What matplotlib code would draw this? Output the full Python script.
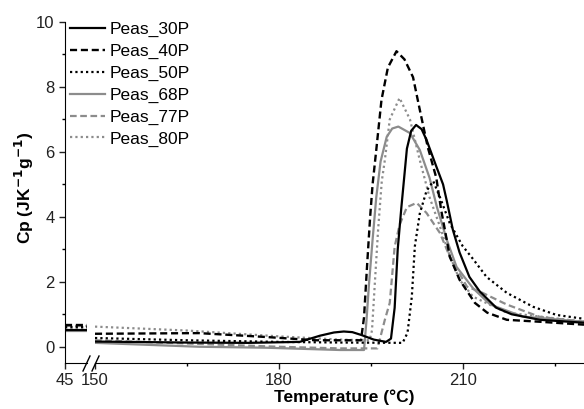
import numpy as np
import matplotlib
matplotlib.use('Agg')
import matplotlib.pyplot as plt
from matplotlib.lines import Line2D

plt.rcParams['font.family'] = ['Liberation Sans', 'DejaVu Sans']

# ---- data ----
labels = ['Peas_30P', 'Peas_40P', 'Peas_50P', 'Peas_68P', 'Peas_77P', 'Peas_80P']

# left (low temperature) segment, 45 °C region
T_low = [45.0, 46.0, 47.0, 48.0, 48.6]
cp_low = {
    'Peas_30P': [0.52, 0.52, 0.52, 0.52, 0.52],
    'Peas_40P': [0.66, 0.66, 0.66, 0.66, 0.66],
    'Peas_50P': [0.60, 0.60, 0.60, 0.60, 0.60],
    'Peas_68P': [0.50, 0.50, 0.50, 0.50, 0.50],
    'Peas_77P': [0.64, 0.64, 0.64, 0.64, 0.64],
    'Peas_80P': [0.55, 0.55, 0.55, 0.55, 0.55],
}

T_30 = [150, 165, 175, 183.4, 186.7, 189, 190.6, 192, 193.5, 195.5, 197.5, 198.3, 198.9, 199.4,
        200.0, 200.5, 200.9, 201.6, 202.4, 203.3, 204.1, 205.7, 206.8, 207.4, 208.4, 209.5, 211.1,
        212.8, 215.5, 218, 222.6, 229.8]
cp_30 = [0.16, 0.13, 0.12, 0.15, 0.34, 0.44, 0.47, 0.45, 0.36, 0.22, 0.15, 0.25, 1.2, 3.0,
         4.3, 5.3, 6.1, 6.65, 6.83, 6.7, 6.37, 5.55, 5.0, 4.5, 3.6, 2.9, 2.15,
         1.7, 1.2, 1.0, 0.83, 0.74]

T_40 = [150, 167, 178, 186, 193.4, 193.9, 194.4, 194.9, 195.3, 195.9, 196.75, 197.8, 199.2, 200.5,
        201.9, 203.0, 204.3, 205.7, 206.5, 207.1, 207.9, 209.5, 212.0, 214.0, 217.2, 222.6, 229.8]
cp_40 = [0.40, 0.42, 0.30, 0.20, 0.20, 0.9, 2.5, 4.0, 5.0, 6.06, 7.6, 8.6, 9.1, 8.85,
         8.3, 7.3, 6.15, 5.2, 4.2, 3.6, 2.77, 2.06, 1.35, 1.05, 0.83, 0.77, 0.68]

T_50 = [150, 165, 180, 190, 200.2, 201.0, 201.7, 202.2, 203.0, 204.1, 205.2, 206.3, 207.9, 210.0,
        211.7, 213.9, 217.2, 221.5, 225.3, 229.8]
cp_50 = [0.27, 0.20, 0.15, 0.13, 0.12, 0.43, 1.54, 3.1, 4.1, 4.8, 5.1, 4.6, 3.8, 3.1,
         2.7, 2.15, 1.66, 1.23, 0.98, 0.86]

T_68 = [150, 167, 178, 190, 193.9, 194.3, 194.7, 195.3, 195.9, 196.6, 197.6, 198.5, 199.5, 201.4,
        203.0, 204.6, 205.8, 207.4, 209.0, 211.7, 214.5, 219.8, 229.8]
cp_68 = [0.12, 0.0, -0.03, -0.1, -0.1, 0.8, 1.9, 3.3, 4.6, 5.7, 6.46, 6.72, 6.78, 6.58,
         6.06, 5.2, 4.3, 3.3, 2.46, 1.8, 1.3, 0.93, 0.77]

T_77 = [150, 165, 180, 190, 196.1, 197.3, 198.1, 198.9, 199.7, 200.9, 202.5, 204.1, 206.3, 207.9,
        210.7, 212.8, 217.2, 222.6, 229.8]
cp_77 = [0.20, 0.10, 0.0, -0.05, -0.05, 0.83, 1.35, 3.08, 3.75, 4.3, 4.43, 4.12, 3.5, 2.77,
         1.85, 1.7, 1.3, 0.92, 0.77]

T_80 = [150, 165, 180, 190, 194.8, 195.2, 195.7, 196.2, 196.8, 197.3, 198.1, 199.7, 201.4, 203.0,
        204.6, 206.3, 207.6, 209.5, 211.7, 217.2, 229.8]
cp_80 = [0.62, 0.50, 0.32, 0.22, 0.20, 0.5, 2.06, 3.6, 5.1, 5.75, 7.0, 7.66, 7.0, 5.75,
         4.6, 3.7, 2.95, 2.06, 1.54, 1.05, 0.77]

series = {
    'Peas_30P': (T_30, cp_30),
    'Peas_40P': (T_40, cp_40),
    'Peas_50P': (T_50, cp_50),
    'Peas_68P': (T_68, cp_68),
    'Peas_77P': (T_77, cp_77),
    'Peas_80P': (T_80, cp_80),
}

GREY = '#8c8c8c'
styles = {
    'Peas_30P': dict(color='black', ls='-', lw=1.6),
    'Peas_40P': dict(color='black', ls=(0, (3, 1.6)), lw=1.7),
    'Peas_50P': dict(color='black', ls=(0, (1, 1.4)), lw=1.6),
    'Peas_68P': dict(color=GREY, ls='-', lw=1.6),
    'Peas_77P': dict(color=GREY, ls=(0, (3, 1.6)), lw=1.6),
    'Peas_80P': dict(color=GREY, ls=(0, (1, 1.4)), lw=1.6),
}

W, H = 584, 409
fig = plt.figure(figsize=(W / 100, H / 100), dpi=100)
bot, top = 363, 22
ax1 = fig.add_axes([65 / W, 1 - bot / H, (87 - 65) / W, (bot - top) / H])
ax2 = fig.add_axes([95 / W, 1 - bot / H, (W - 95) / W, (bot - top) / H])

draw_order = ['Peas_80P', 'Peas_77P', 'Peas_68P', 'Peas_50P', 'Peas_40P', 'Peas_30P']
for name in draw_order:
    ax1.plot(T_low, cp_low[name], **styles[name])
    ax2.plot(*series[name], **styles[name])

for ax in (ax1, ax2):
    ax.set_ylim(-0.5, 10)
    for s in ('top', 'right'):
        ax.spines[s].set_visible(False)
    ax.tick_params(direction='out', labelsize=12, length=4, width=1, colors='#222222')
    ax.tick_params(which='minor', direction='out', length=2.5, width=1)

ax1.set_xlim(45, 48.6)
ax1.set_xticks([45])
ax1.set_yticks(np.arange(0, 11, 2))
ax1.set_yticks(np.arange(1, 10, 2), minor=True)

ax2.set_xlim(150, 229.8)
ax2.spines['left'].set_visible(False)
ax2.set_yticks([])
ax2.set_xticks([150, 180, 210])
ax2.set_xticks([165, 195, 225], minor=True)

# break marks
for x0 in (83, 92):
    fig.add_artist(Line2D([x0 / W, (x0 + 7) / W], [1 - 371 / H, 1 - 356 / H],
                          color='black', lw=1, transform=fig.transFigure))

fig.text(24 / W, 1 - 188 / H, 'Cp (JK$^{\\mathbf{-1}}$g$^{\\mathbf{-1}}$)', rotation=90,
         fontsize=12.5, fontweight='bold', ha='center', va='center')
fig.text(344 / W, 1 - 397 / H, 'Temperature (°C)', fontsize=12.5, fontweight='bold',
         ha='center', va='center')

handles = [Line2D([], [], **styles[n]) for n in labels]
fig.legend(handles, labels, loc='upper left', bbox_to_anchor=(63 / W, 1 - 15 / H),
           frameon=False, fontsize=12.5, handlelength=2.0, handletextpad=0.3,
           labelspacing=0.38, borderaxespad=0)

fig.savefig('out.png', dpi=100)
